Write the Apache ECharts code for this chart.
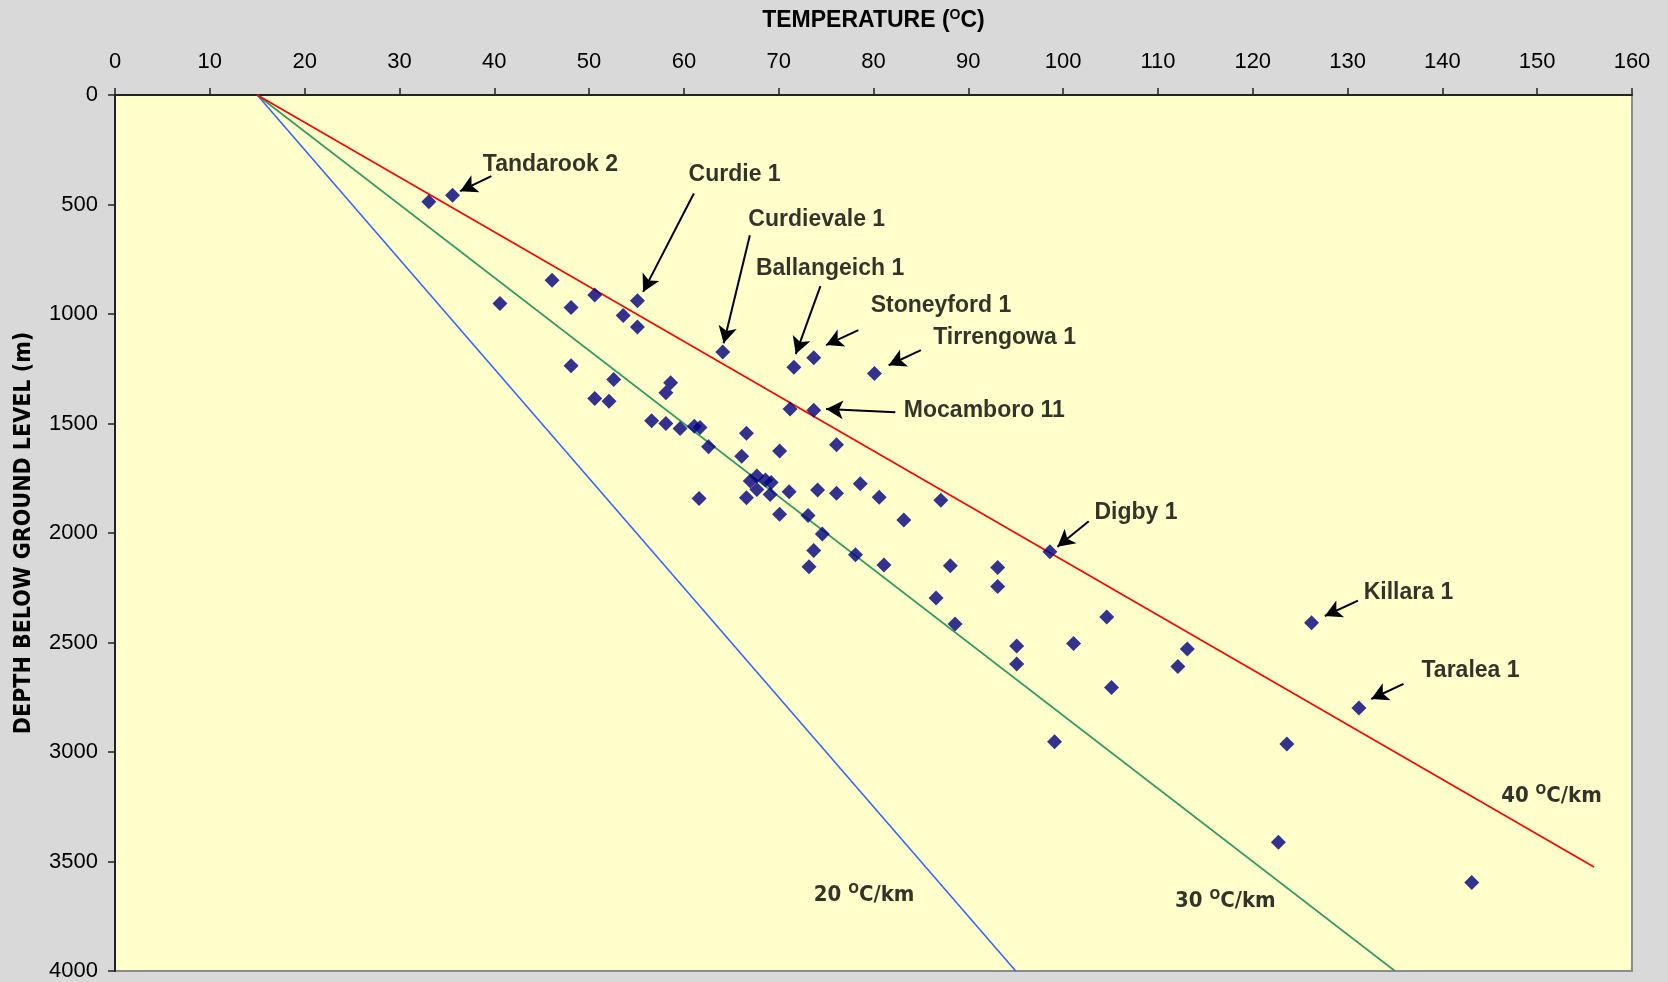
<!DOCTYPE html>
<html><head><meta charset="utf-8">
<script src="https://cdn.jsdelivr.net/npm/echarts@6/dist/echarts.min.js"></script>
<style>html,body{margin:0;padding:0;background:#d9d9d9}#c{width:1668px;height:982px}</style>
</head><body><div id="c"></div><script>
// Well temperature (°C) and depth (m)
const temps = [33.1,35.6,40.6,46.1,48.1,50.6,55.1,53.6,55.1,48.1,52.6,58.6,58.1,50.6,52.1,64.1,71.6,73.7,80.1,71.2,73.7,56.6,58.1,59.6,61.1,61.7,62.6,66.6,76.1,66.1,70.1,67.0,67.7,67.7,68.6,69.2,69.1,66.6,61.6,71.1,74.1,76.1,78.6,80.6,87.1,83.2,70.1,73.1,74.6,73.7,73.2,78.1,81.1,88.1,86.6,88.6,98.6,93.1,93.1,104.6,101.1,95.1,95.1,113.1,112.1,105.1,99.1,126.2,131.2,123.6,122.7,143.1];
const depths = [488,458,952,846,970,913,940,1007,1059,1236,1299,1314,1360,1386,1398,1174,1243,1200,1272,1434,1439,1488,1500,1523,1512,1518,1606,1545,1597,1650,1626,1762,1740,1801,1758,1769,1824,1839,1842,1812,1804,1819,1775,1837,1851,1941,1914,1920,2005,2080,2154,2099,2146,2150,2297,2416,2086,2157,2244,2384,2504,2516,2598,2530,2610,2706,2953,2410,2799,2964,3412,3596];

// Geothermal gradient reference lines (surface 15 °C)
const gradients = [20, 30, 40];
const gradientStart = [[15,0],[15,0],[15,0]];
const gradientEnd = [[95,4000],[135,4000],[156,3525]];
const gradientColors = ['#3366ff','#339966','#ff0000'];
const gradientLabelPos = [[73.7,3655],[111.8,3683],[146.2,3204]];

// Well annotations
const wellNames = ['Tandarook 2','Curdie 1','Curdievale 1','Ballangeich 1','Stoneyford 1','Tirrengowa 1','Mocamboro 11','Digby 1','Killara 1','Taralea 1'];
const wellLabelPos = [[38.8,316],[60.5,364],[66.8,567],[67.6,791],[79.7,960],[86.3,1106],[83.2,1442],[103.3,1908],[131.7,2272],[137.8,2630]];
const arrowFrom = [[39.7,370],[61.05,450],[66.96,640],[74.4,873],[78.4,1074],[85.0,1165],[82.3,1449],[102.7,1946],[131.1,2309],[135.9,2689]];
const arrowTo = [[36.4,439],[55.7,899],[64.2,1134],[71.8,1183],[75.0,1142],[81.6,1234],[75.0,1434],[99.4,2063],[127.6,2379],[132.5,2758]];

// Axis ticks
const xMin = 0, xMax = 160, xStep = 10;
const yMin = 0, yMax = 4000, yStep = 500;

const FONT = "'Liberation Sans', Arial, sans-serif";
const NARROW = "'Liberation Sans Narrow', 'DejaVu Sans Condensed', 'Liberation Sans', sans-serif";

const chart = echarts.init(document.getElementById('c'));
const series = [];
gradients.forEach((g, i) => {
  series.push({
    type: 'line', data: [gradientStart[i], gradientEnd[i]], symbol: 'none',
    lineStyle: { color: gradientColors[i], width: 1.6 }, silent: true, z: 2
  });
});
series.push({
  type: 'scatter', data: temps.map((t, i) => [t, depths[i]]), symbol: 'diamond', symbolSize: 15,
  itemStyle: { color: '#000080' }, z: 5,
  markLine: {
    silent: true, symbol: ['none', 'arrow'], symbolSize: [14, 17], animation: false,
    lineStyle: { color: '#000', width: 2, type: 'solid' }, label: { show: false },
    data: arrowFrom.map((f, i) => [{ coord: f }, { coord: arrowTo[i] }])
  }
});
series.push({
  type: 'scatter', data: wellNames.map((n, i) => [wellLabelPos[i][0], wellLabelPos[i][1], n]),
  symbolSize: 0, silent: true, z: 6,
  label: { show: true, position: 'right', distance: 0, formatter: p => p.data[2],
    fontFamily: FONT, fontWeight: 'bold', fontSize: 23, color: '#000' }
});
series.push({
  type: 'scatter', data: gradients.map((g, i) => [gradientLabelPos[i][0], gradientLabelPos[i][1], g]),
  symbolSize: 0, silent: true, z: 6,
  label: { show: true, position: 'right', distance: 0,
    formatter: p => '{n|' + p.data[2] + ' }{s|O}{n|C/km}',
    rich: {
      n: { fontFamily: NARROW, fontWeight: 'bold', fontSize: 22, color: '#000', lineHeight: 26 },
      s: { fontFamily: NARROW, fontWeight: 'bold', fontSize: 14, color: '#000', verticalAlign: 'top', lineHeight: 14 }
    } }
});

chart.setOption({
  animation: false,
  backgroundColor: '#d9d9d9',
  grid: { left: 115, right: 36, top: 95, bottom: 11, show: true, backgroundColor: '#ffffcc', borderColor: '#8c8c8c', borderWidth: 2, outerBoundsMode: 'none', containLabel: false },
  xAxis: {
    type: 'value', position: 'top', min: xMin, max: xMax, interval: xStep,
    axisLine: { show: true, onZero: false, lineStyle: { color: '#222', width: 2 } },
    axisTick: { show: true, length: 7, lineStyle: { color: '#222', width: 1.5 } },
    axisLabel: { fontFamily: FONT, fontSize: 22, color: '#000', margin: 22 },
    splitLine: { show: false },
    name: '{t|TEMPERATURE (}{s|O}{t|C)}', nameLocation: 'middle', nameGap: 61,
    nameTextStyle: { rich: {
      t: { fontFamily: FONT, fontWeight: 'bold', fontSize: 23, color: '#000', lineHeight: 26 },
      s: { fontFamily: FONT, fontWeight: 'bold', fontSize: 14, color: '#000', verticalAlign: 'top', lineHeight: 14 }
    } }
  },
  yAxis: {
    type: 'value', inverse: true, min: yMin, max: yMax, interval: yStep,
    axisLine: { show: true, onZero: false, lineStyle: { color: '#222', width: 2 } },
    axisTick: { show: true, length: 7, lineStyle: { color: '#222', width: 1.5 } },
    axisLabel: { fontFamily: FONT, fontSize: 22, color: '#000', margin: 17, formatter: v => String(v) },
    splitLine: { show: false },
    name: 'DEPTH BELOW GROUND LEVEL (m)', nameLocation: 'middle', nameGap: 79, nameRotate: 90,
    nameTextStyle: { fontFamily: NARROW, fontWeight: 'bold', fontSize: 23, color: '#000' }
  },
  series: series
});
</script></body></html>
